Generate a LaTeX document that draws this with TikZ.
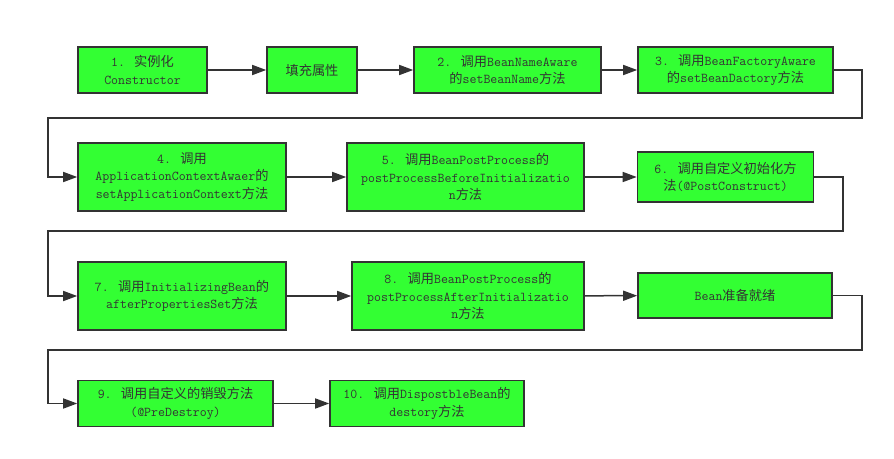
\documentclass[tikz,border=0pt]{standalone}
\usepackage{fontspec}
\usepackage{tikz}
\usetikzlibrary{arrows.meta}
\newfontfamily\cjk[Scale=0.98]{Noto Sans CJK SC}
\newcommand{\zh}[1]{{\cjk #1}}
\definecolor{boxgreen}{HTML}{33FF33}
\definecolor{ink}{HTML}{333333}

\begin{document}
\begin{tikzpicture}[x=1pt,y=-1pt,>={Triangle[length=14pt,width=10pt]},
  box/.style={draw=ink,line width=1.6pt,fill=boxgreen,text=ink,align=center,
    inner sep=0pt,font=\ttfamily\fontsize{13.5}{17.5}\selectfont},
  flow/.style={->,draw=ink,line width=1.5pt}]
  \useasboundingbox (0,0) rectangle (894,458);
  % first row
  \node[box,minimum width=129pt,minimum height=46pt] (inst) at (142.5,70)
    {1. \zh{实例化}\\Constructor};
  \node[box,minimum width=90pt,minimum height=46pt] (fill) at (312,70)
    {\zh{填充属性}};
  \node[box,minimum width=187pt,minimum height=46pt] (bname) at (507.5,70)
    {2. \zh{调用}BeanNameAware\\\zh{的}setBeanName\zh{方法}};
  \node[box,minimum width=195pt,minimum height=46pt] (bfactory) at (735.5,70)
    {3. \zh{调用}BeanFactoryAware\\\zh{的}setBeanDactory\zh{方法}};
  % second row
  \node[box,minimum width=208pt,minimum height=68pt] (appctx) at (182,177)
    {4. \zh{调用}\\ApplicationContextAwaer\zh{的}\\setApplicationContext\zh{方法}};
  \node[box,minimum width=237pt,minimum height=68pt] (before) at (465.5,177)
    {5. \zh{调用}BeanPostProcess\zh{的}\\postProcessBeforeInitializatio\\n\zh{方法}};
  \node[box,minimum width=176pt,minimum height=50pt] (initm) at (725.5,177)
    {6. \zh{调用自定义初始化方}\\\zh{法}(@PostConstruct)};
  % third row
  \node[box,minimum width=208pt,minimum height=68pt] (afterset) at (182,296)
    {7. \zh{调用}InitializingBean\zh{的}\\afterPropertiesSet\zh{方法}};
  \node[box,minimum width=232pt,minimum height=68pt] (after) at (468,296)
    {8. \zh{调用}BeanPostProcess\zh{的}\\postProcessAfterInitializatio\\n\zh{方法}};
  \node[box,minimum width=194pt,minimum height=45pt] (ready) at (735,295.5)
    {Bean\zh{准备就绪}};
  % last row
  \node[box,minimum width=195pt,minimum height=46pt] (destroy) at (175.5,403.5)
    {9. \zh{调用自定义的销毁方法}\\(@PreDestroy)};
  \node[box,minimum width=194pt,minimum height=46pt] (dispose) at (427,403.5)
    {10. \zh{调用}DispostbleBean\zh{的}\\destory\zh{方法}};
  % turning points
  \coordinate (r1) at (862,118);
  \coordinate (l1) at (48,118);
  \coordinate (r2) at (843,231);
  \coordinate (l2) at (48,231);
  \coordinate (r3) at (862,350);
  \coordinate (l3) at (48,350);
  % connectors
  \draw[flow] (inst) -- (fill);
  \draw[flow] (fill) -- (bname);
  \draw[flow] (bname) -- (bfactory);
  \draw[flow] (bfactory.east) -| (r1) -- (l1) |- (appctx.west);
  \draw[flow] (appctx) -- (before);
  \draw[flow] (before) -- (initm);
  \draw[flow] (initm.east) -| (r2) -- (l2) |- (afterset.west);
  \draw[flow] (afterset) -- (after);
  \draw[flow] (after) -- (ready);
  \draw[flow] (ready.east) -| (r3) -- (l3) |- (destroy.west);
  \draw[flow] (destroy) -- (dispose);
\end{tikzpicture}
\end{document}
